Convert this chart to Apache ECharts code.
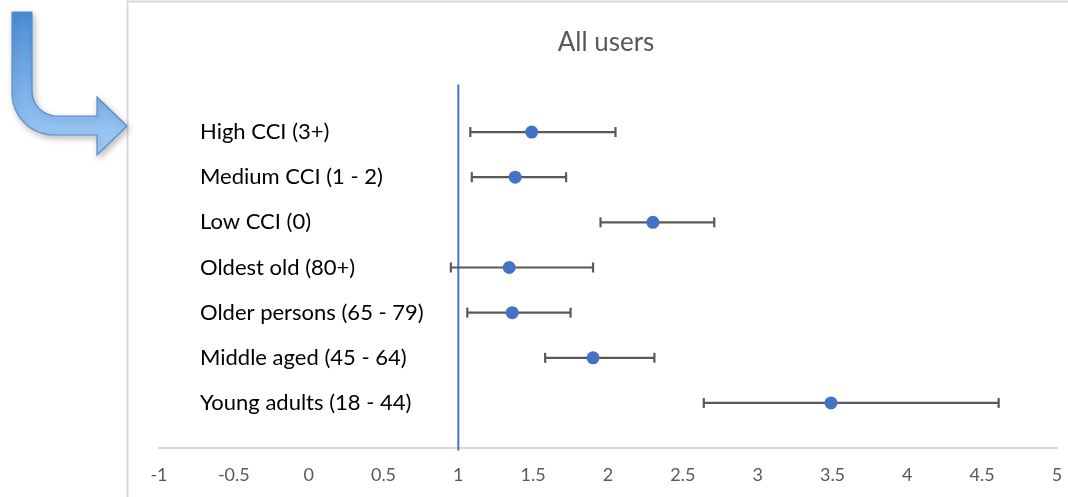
<!DOCTYPE html>
<html>
<head>
<meta charset="utf-8">
<title>All users</title>
<script src="https://cdn.jsdelivr.net/npm/echarts@6/dist/echarts.min.js"></script>
<style>
  html, body { margin: 0; padding: 0; background: #ffffff; }
  #chart { width: 1068px; height: 497px; }
</style>
</head>
<body>
<div id="chart"></div>
<script>
// Groups, top to bottom
const categories = [
  'High CCI (3+)',
  'Medium CCI (1 - 2)',
  'Low CCI (0)',
  'Oldest old (80+)',
  'Older persons (65 - 79)',
  'Middle aged (45 - 64)',
  'Young adults (18 - 44)'
];
// Point estimates and confidence bounds
const estimates = [1.49, 1.38, 2.30, 1.34, 1.36, 1.90, 3.49];
const lowerCI   = [1.08, 1.09, 1.95, 0.95, 1.06, 1.58, 2.64];
const upperCI   = [2.05, 1.72, 2.71, 1.90, 1.75, 2.31, 4.61];
// Reference value (no effect)
const referenceValue = 1;
// Horizontal axis range and tick step
const xMin = -1, xMax = 5, xStep = 0.5;

const FONT = 'Lato, "Open Sans", sans-serif';

// Outline of the bent arrow decoration (quarter-circle corner)
function arcPoints(cx, cy, r, a0, a1, n) {
  const pts = [];
  for (let k = 0; k <= n; k++) {
    const a = a0 + (a1 - a0) * k / n;
    pts.push([cx + r * Math.cos(a), cy + r * Math.sin(a)]);
  }
  return pts;
}
const arrowOutline = [].concat(
  [[12, 12], [32, 12]],
  arcPoints(57, 91, 25, Math.PI, Math.PI / 2, 12),
  [[97, 116], [97, 97], [127, 126], [97, 155], [97, 135]],
  arcPoints(54, 93, 42, Math.PI / 2, Math.PI, 16)
);

const chart = echarts.init(document.getElementById('chart'), null, { renderer: 'canvas' });

const ciData = categories.map((c, i) => [lowerCI[i], upperCI[i], i]);
const pointData = categories.map((c, i) => [estimates[i], i]);

const option = {
  backgroundColor: '#ffffff',
  animation: false,
  title: {
    text: 'All users',
    left: 601,
    top: 25,
    textAlign: 'center',
    textStyle: { fontFamily: FONT, fontSize: 26, fontWeight: 'normal', color: '#595959' }
  },
  graphic: [
    // chart frame
    {
      type: 'polyline',
      shape: { points: [[127.5, 497], [127.5, 1.5], [1068, 1.5]] },
      style: { stroke: '#d9d9d9', lineWidth: 2, fill: null },
      silent: true
    },
    // bent arrow pointing into the chart
    {
      type: 'polygon',
      shape: { points: arrowOutline },
      style: {
        fill: {
          type: 'linear', x: 0, y: 0, x2: 0, y2: 1,
          colorStops: [
            { offset: 0, color: '#4a8ed6' },
            { offset: 1, color: '#a5cdf9' }
          ]
        },
        stroke: '#5b8ccb',
        lineWidth: 1.2,
        shadowBlur: 6,
        shadowOffsetX: 2,
        shadowOffsetY: 3,
        shadowColor: 'rgba(0,0,0,0.25)'
      },
      silent: true
    }
  ],
  grid: { left: 159, right: 11, top: 109.5, bottom: 71.5 },
  xAxis: {
    type: 'value',
    min: xMin,
    max: xMax,
    interval: xStep,
    offset: 22,
    axisLine: { show: true, lineStyle: { color: '#d9d9d9', width: 2 } },
    axisTick: { show: false },
    splitLine: { show: false },
    axisLabel: {
      margin: 19,
      fontFamily: FONT,
      fontSize: 18,
      color: '#595959'
    }
  },
  yAxis: {
    type: 'category',
    data: categories,
    inverse: true,
    axisLine: { show: false },
    axisTick: { show: false },
    splitLine: { show: false },
    axisLabel: {
      inside: true,
      margin: 41,
      align: 'left',
      fontFamily: FONT,
      fontSize: 22,
      color: '#000000'
    }
  },
  series: [
    {
      // reference line at the null value
      type: 'custom',
      data: [[referenceValue, 0]],
      renderItem: function (params, api) {
        const cs = params.coordSys;
        const x = api.coord([api.value(0), 0])[0];
        return {
          type: 'line',
          shape: { x1: x, y1: cs.y - 25, x2: x, y2: cs.y + cs.height + 25 },
          style: { stroke: '#4472c4', lineWidth: 2 }
        };
      },
      z: 1
    },
    {
      // confidence intervals with end caps
      type: 'custom',
      data: ciData,
      renderItem: function (params, api) {
        const lo = api.coord([api.value(0), api.value(2)]);
        const hi = api.coord([api.value(1), api.value(2)]);
        const cap = 5;
        const st = { stroke: '#595959', lineWidth: 2.2 };
        return {
          type: 'group',
          children: [
            { type: 'line', shape: { x1: lo[0], y1: lo[1], x2: hi[0], y2: hi[1] }, style: st },
            { type: 'line', shape: { x1: lo[0], y1: lo[1] - cap, x2: lo[0], y2: lo[1] + cap }, style: st },
            { type: 'line', shape: { x1: hi[0], y1: hi[1] - cap, x2: hi[0], y2: hi[1] + cap }, style: st }
          ]
        };
      },
      z: 2
    },
    {
      type: 'scatter',
      data: pointData,
      symbol: 'circle',
      symbolSize: 13,
      itemStyle: { color: '#4472c4', opacity: 1 },
      z: 3
    }
  ]
};

chart.setOption(option);
</script>
</body>
</html>
